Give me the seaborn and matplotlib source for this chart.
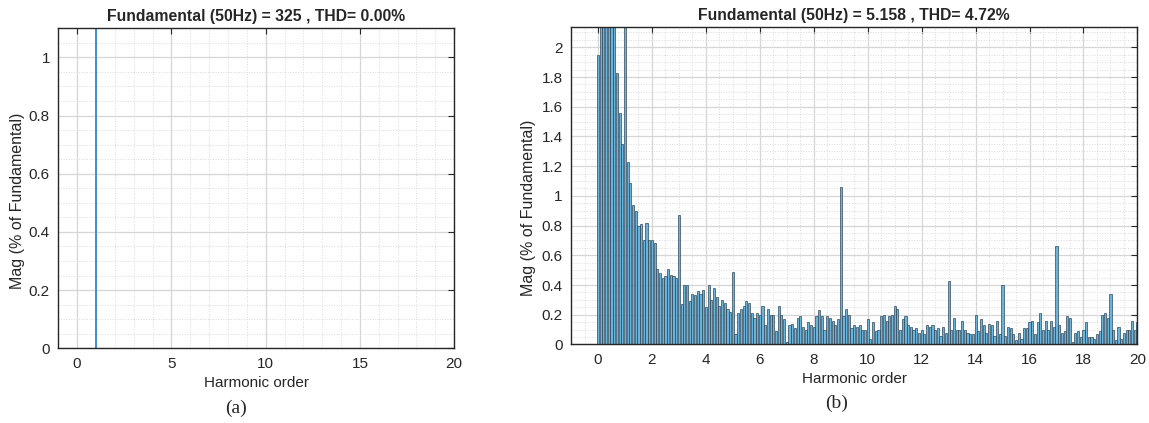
import numpy as np
import pandas as pd
import seaborn as sns
import matplotlib.pyplot as plt
from matplotlib.ticker import MultipleLocator, FuncFormatter

# (a) ideal sine: only the fundamental, integer harmonic orders
orders_a = list(range(0, 21))
mag_a = [0, 100, 0, 0, 0, 0, 0, 0, 0, 0, 0,
         0, 0, 0, 0, 0, 0, 0, 0, 0, 0]

orders_b = np.round(np.arange(0, 201) / 10, 1)
mag_b = [
    1.95, 5.6, 4.1, 3.3, 2.8, 2.5, 2.3, 1.83, 1.56, 1.35,      # 0.x
    100.0, 1.23, 1.09, 0.94, 0.90, 0.80, 0.81, 0.70, 0.82, 0.70,  # 1.x
    0.70, 0.68, 0.51, 0.48, 0.45, 0.46, 0.51, 0.47, 0.46, 0.45,  # 2.x
    0.87, 0.27, 0.40, 0.40, 0.29, 0.34, 0.33, 0.36, 0.34, 0.37,  # 3.x
    0.25, 0.40, 0.30, 0.38, 0.32, 0.26, 0.30, 0.28, 0.24, 0.22,  # 4.x
    0.49, 0.07, 0.21, 0.24, 0.26, 0.29, 0.28, 0.21, 0.18, 0.21,  # 5.x
    0.20, 0.26, 0.13, 0.24, 0.20, 0.20, 0.09, 0.26, 0.20, 0.17,  # 6.x
    0.02, 0.13, 0.14, 0.11, 0.18, 0.19, 0.12, 0.10, 0.15, 0.13,  # 7.x
    0.12, 0.19, 0.23, 0.19, 0.10, 0.19, 0.18, 0.16, 0.13, 0.17,  # 8.x
    1.06, 0.19, 0.24, 0.20, 0.11, 0.13, 0.12, 0.13, 0.10, 0.10,  # 9.x
    0.17, 0.04, 0.15, 0.09, 0.10, 0.19, 0.20, 0.16, 0.19, 0.20,  # 10.x
    0.26, 0.24, 0.10, 0.17, 0.19, 0.13, 0.12, 0.10, 0.11, 0.08,  # 11.x
    0.10, 0.07, 0.13, 0.12, 0.13, 0.10, 0.11, 0.06, 0.12, 0.08,  # 12.x
    0.43, 0.10, 0.18, 0.10, 0.10, 0.16, 0.10, 0.08, 0.07, 0.07,  # 13.x
    0.20, 0.09, 0.17, 0.13, 0.08, 0.14, 0.13, 0.06, 0.16, 0.07,  # 14.x
    0.40, 0.06, 0.12, 0.11, 0.07, 0.03, 0.08, 0.04, 0.11, 0.11,  # 15.x
    0.15, 0.16, 0.07, 0.15, 0.21, 0.10, 0.16, 0.10, 0.16, 0.12,  # 16.x
    0.66, 0.13, 0.08, 0.09, 0.19, 0.18, 0.02, 0.08, 0.09, 0.05,  # 17.x
    0.10, 0.15, 0.05, 0.05, 0.04, 0.07, 0.09, 0.20, 0.21, 0.18,  # 18.x
    0.34, 0.10, 0.03, 0.12, 0.04, 0.08, 0.10, 0.10, 0.16, 0.10,  # 19.x
    0.15,
]

titles = ["Fundamental (50Hz) = 325 , THD= 0.00%",
          "Fundamental (50Hz) = 5.158 , THD= 4.72%"]

sns.set_style("white")
plt.rcParams['font.family'] = ['Liberation Sans', 'DejaVu Sans']

fig = plt.figure(figsize=(11.49, 4.23), dpi=100)
ax_a = fig.add_axes([0.0507, 0.1766, 0.3446, 0.7565])
ax_b = fig.add_axes([0.4970, 0.1856, 0.4929, 0.7499])

df_a = pd.DataFrame({"order": orders_a, "mag": mag_a})
df_b = pd.DataFrame({"order": orders_b, "mag": mag_b})

sns.barplot(data=df_a, x="order", y="mag", native_scale=True, width=0.13,
            color="#4190d0", saturation=1, linewidth=0, errorbar=None, ax=ax_a)
sns.barplot(data=df_b, x="order", y="mag", native_scale=True, width=0.8,
            color="#6ab4dc", saturation=1, edgecolor="#24394a", linewidth=0.45,
            errorbar=None, ax=ax_b)

fmt = FuncFormatter(lambda v, p: "%g" % round(v, 2))

def style_axes(ax, title, xlim, ylim, xmaj, xmin, ylab_y, ylab_x):
    ax.set_xlim(*xlim)
    ax.set_ylim(*ylim)
    ax.xaxis.set_major_locator(MultipleLocator(xmaj))
    ax.xaxis.set_minor_locator(MultipleLocator(xmin))
    ax.yaxis.set_major_locator(MultipleLocator(0.2))
    ax.yaxis.set_minor_locator(MultipleLocator(0.05))
    ax.xaxis.set_major_formatter(fmt)
    ax.yaxis.set_major_formatter(fmt)
    ax.set_axisbelow(True)
    ax.grid(which="major", color="#d6d6d6", lw=0.9, ls="-")
    ax.grid(which="minor", color="#dadada", lw=0.7, ls=":")
    ax.tick_params(which="major", direction="in", top=True, right=True,
                   length=4, width=0.8, labelsize=11, colors="#262626", pad=6)
    ax.tick_params(which="minor", length=0)
    for s in ax.spines.values():
        s.set_color("#262626")
        s.set_linewidth(1.0)
    ax.set_title(title, fontsize=11.3, fontweight="bold", pad=5)
    ax.set_xlabel("Harmonic order", fontsize=11, labelpad=4)
    ax.set_ylabel("Mag (% of Fundamental)", fontsize=11.5)
    ax.yaxis.set_label_coords(ylab_x, ylab_y)

style_axes(ax_a, titles[0], (-1, 20), (0, 1.1), 5, 1, 0.46, -0.084)
style_axes(ax_b, titles[1], (-1, 20), (0, 2.135), 2, 0.5, 0.43, -0.062)

fig.text(236 / 1149, 1 - 408 / 423, "(a)", ha="center", va="center",
         family="Liberation Serif", fontsize=14)
fig.text(837 / 1149, 1 - 403 / 423, "(b)", ha="center", va="center",
         family="Liberation Serif", fontsize=14)

fig.savefig("out.png", dpi=100)
